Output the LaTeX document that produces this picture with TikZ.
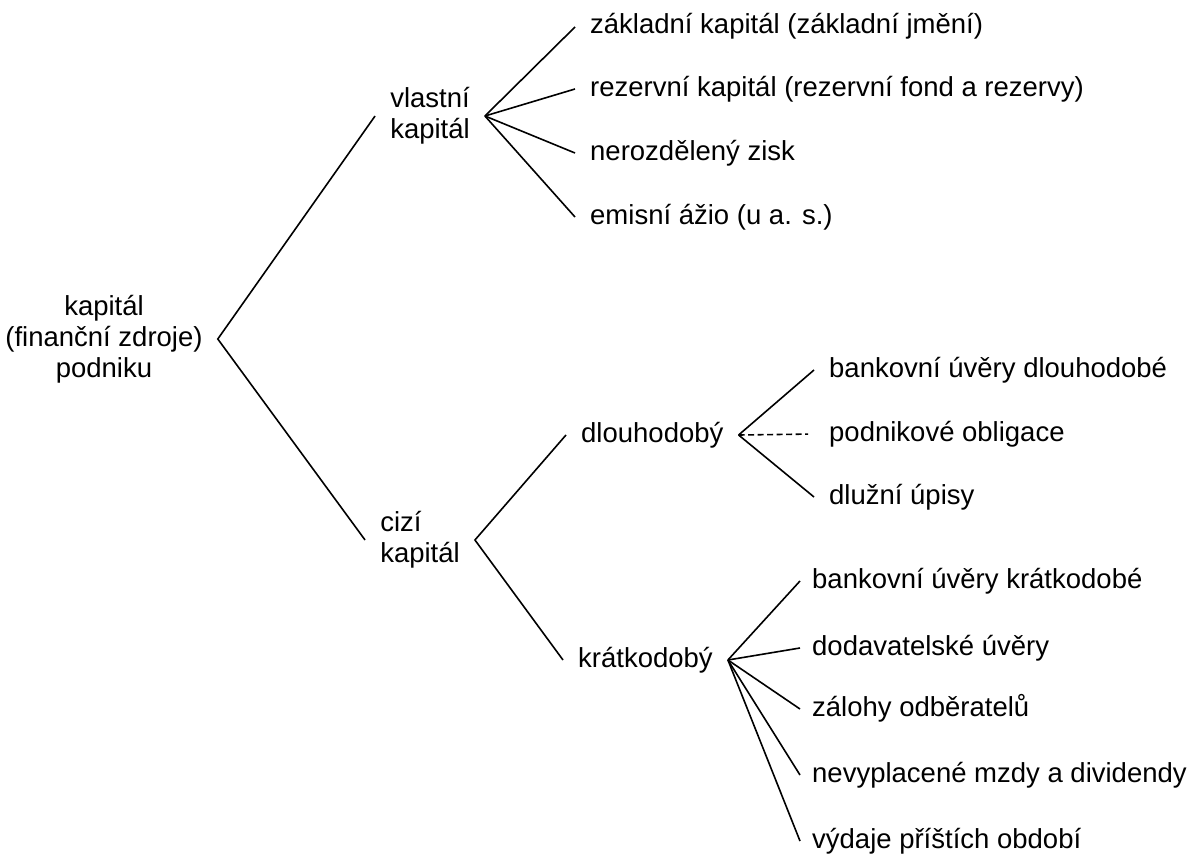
\documentclass[tikz,border=0pt]{standalone}
\usepackage{fontspec}
\setmainfont{Liberation Sans}
\begin{document}
\begin{tikzpicture}[x=1pt, y=-1pt,
        every node/.style={font=\fontsize{27.5}{31}\selectfont, inner xsep=15pt, inner ysep=0pt},
        r/.style={align=center},
        k/.style={align=left},
        l/.style={anchor=west, text height=20pt, text depth=6pt},
        h/.style={l, inner xsep=12pt},
        e/.style={line width=1.6pt},
        d/.style={e, dash pattern=on 6pt off 3.5pt, shorten >=6pt}]
        \useasboundingbox (0,0) rectangle (1195,859);

        \node[r] (kap) at (104,339) {kapitál\\(finanční zdroje)\\podniku};
        \node[k] (vlastni) at (430,116) {vlastní\\kapitál};
        \node[k] (cizi) at (420,540) {cizí\\kapitál};
        \node[l] (dlouho) at (566,435) {dlouhodobý};
        \node[l] (kratko) at (563,660) {krátkodobý};

        \node[l] (zk) at (575,27) {základní kapitál (základní jmění)};
        \node[l] (rk) at (575,89) {rezervní kapitál (rezervní fond a rezervy)};
        \node[l] (nz) at (575,153) {nerozdělený zisk};
        \node[l] (ea) at (575,217) {emisní ážio (u a. s.)};

        \node[l] (bud) at (814,370) {bankovní úvěry dlouhodobé};
        \node[l] (po) at (814,434) {podnikové obligace};
        \node[l] (du) at (814,497) {dlužní úpisy};

        \node[h] (buk) at (800,581) {bankovní úvěry krátkodobé};
        \node[h] (dod) at (800,648) {dodavatelské úvěry};
        \node[h] (zo) at (800,709) {zálohy odběratelů};
        \node[h] (nm) at (800,775) {nevyplacené mzdy a dividendy};
        \node[h] (vpo) at (800,841) {výdaje příštích období};

        \draw[e] (vlastni.west) -- (kap.east) -- (cizi.west);
        \draw[e] (dlouho.west) -- (cizi.east) -- (kratko.west);

        \draw[e] (vlastni.east) -- (zk.west);
        \draw[e] (vlastni.east) -- (rk.west);
        \draw[e] (vlastni.east) -- (nz.west);
        \draw[e] (vlastni.east) -- (ea.west);

        \draw[e] (dlouho.east) -- (bud.west);
        \draw[d] (dlouho.east) -- (po.west);
        \draw[e] (dlouho.east) -- (du.west);

        \draw[e] (kratko.east) -- (buk.west);
        \draw[e] (kratko.east) -- (dod.west);
        \draw[e] (kratko.east) -- (zo.west);
        \draw[e] (kratko.east) -- (nm.west);
        \draw[e] (kratko.east) -- (vpo.west);
    \end{tikzpicture}
\end{document}
